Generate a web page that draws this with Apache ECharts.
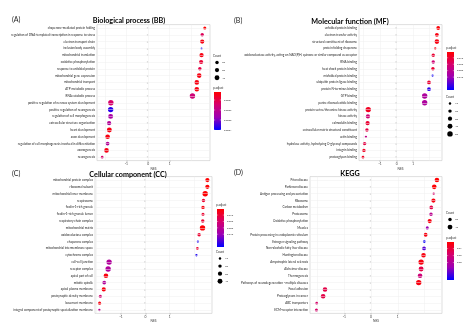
<!DOCTYPE html>
<html><head><meta charset="utf-8">
<script src="https://cdn.jsdelivr.net/npm/echarts@6/dist/echarts.min.js"></script>
<style>html,body{margin:0;padding:0;background:#fff}#c{width:474px;height:329px}</style>
</head><body><div id="c"></div><script>
// ---------- DATA ----------
const xTicks = [-2, -1, 0, 1, 2];

const catsA = ["chaperone-mediated protein folding","regulation of DNA-templated transcription in response to stress","electron transport chain","inclusion body assembly","mitochondrial translation","oxidative phosphorylation","response to unfolded protein","mitochondrial gene expression","mitochondrial transport","ATP metabolic process","RNA catabolic process","positive regulation of nervous system development","positive regulation of neurogenesis","regulation of cell morphogenesis","extracellular structure organization","heart development","axon development","regulation of cell morphogenesis involved in differentiation","axonogenesis","neurogenesis"];
const nesA = [2.62, 2.50, 2.50, 2.47, 2.47, 2.45, 2.39, 2.36, 2.25, 2.25, 2.05, -1.72, -1.73, -1.73, -1.80, -1.79, -1.87, -1.87, -1.92, -2.12];
const countA = [16, 20, 30, 6, 30, 30, 20, 36, 36, 36, 49, 49, 49, 41, 30, 41, 36, 24, 36, 12];
const padjA = [0.00002, 0.00012, 0.00004, 0.00039, 0.00004, 0.00008, 0.00010, 0.00004, 0.00004, 0.00004, 0.00016, 0.00014, 0.00037, 0.00024, 0.00022, 0.00004, 0.00004, 0.00022, 0.00004, 0.00014];
const countTicksA = [20, 30, 40];
const padjTicksA = ["0.0001", "0.0002", "0.0003", "0.0004"];

const catsB = ["unfolded protein binding","electron transfer activity","structural constituent of ribosome","protein folding chaperone","oxidoreductase activity, acting on NAD(P)H, quinone or similar compound as acceptor","RNA binding","heat shock protein binding","misfolded protein binding","ubiquitin protein ligase binding","protein N-terminus binding","GTP binding","purine ribonucleotide binding","protein serine/threonine kinase activity","kinase activity","calmodulin binding","extracellular matrix structural constituent","actin binding","hydrolase activity, hydrolyzing O-glycosyl compounds","integrin binding","proteoglycan binding"];
const nesB = [2.52, 2.44, 2.44, 2.34, 2.22, 2.22, 2.20, 2.18, 1.96, 1.96, 1.70, 1.70, -1.72, -1.74, -1.76, -1.80, -1.86, -1.94, -1.98, -2.04];
const countB = [24, 24, 36, 9, 20, 20, 20, 9, 24, 24, 49, 49, 49, 30, 30, 20, 9, 20, 20, 12];
const padjB = [0.002, 0.004, 0.004, 0.004, 0.010, 0.022, 0.010, 0.058, 0.010, 0.055, 0.034, 0.034, 0.007, 0.022, 0.010, 0.013, 0.028, 0.013, 0.007, 0.007];
const countTicksB = [10, 20, 30, 40, 50];
const padjTicksB = ["0.010", "0.020", "0.030", "0.040"];

const catsC = ["mitochondrial protein complex","ribosomal subunit","mitochondrial inner membrane","respirasome","ficolin-1-rich granule","ficolin-1-rich granule lumen","respiratory chain complex","mitochondrial matrix","oxidoreductase complex","chaperone complex","mitochondrial intermembrane space","cytochrome complex","cell-cell junction","receptor complex","apical part of cell","mitotic spindle","apical plasma membrane","postsynaptic density membrane","basement membrane","integral component of postsynaptic specialization membrane"];
const nesC = [2.55, 2.55, 2.46, 2.39, 2.37, 2.37, 2.36, 2.35, 2.21, 2.16, 2.14, 2.10, -1.49, -1.53, -1.62, -1.69, -1.71, -1.85, -1.88, -1.89];
const countC = [30, 30, 49, 20, 20, 16, 20, 49, 20, 9, 12, 9, 49, 49, 36, 24, 30, 16, 16, 9];
const padjC = [0.001, 0.001, 0.001, 0.009, 0.003, 0.009, 0.009, 0.001, 0.009, 0.057, 0.009, 0.057, 0.033, 0.033, 0.003, 0.033, 0.003, 0.021, 0.003, 0.030];
const countTicksC = [10, 20, 30, 40];
const padjTicksC = ["0.010", "0.020", "0.030", "0.040"];

const catsD = ["Prion disease","Parkinson disease","Antigen processing and presentation","Ribosome","Carbon metabolism","Proteasome","Oxidative phosphorylation","Measles","Protein processing in endoplasmic reticulum","Estrogen signaling pathway","Non-alcoholic fatty liver disease","Huntington disease","Amyotrophic lateral sclerosis","Alzheimer disease","Thermogenesis","Pathways of neurodegeneration - multiple diseases","Focal adhesion","Proteoglycans in cancer","ABC transporters","ECM-receptor interaction"];
const nesD = [2.46, 2.36, 2.34, 2.33, 2.25, 2.24, 2.19, 2.10, 2.04, 1.99, 1.98, 1.96, 1.87, 1.87, 1.83, 1.78, -1.72, -1.79, -2.03, -2.04];
const countD = [36, 36, 9, 30, 24, 20, 30, 16, 24, 12, 24, 36, 49, 41, 36, 49, 36, 36, 12, 16];
const padjD = [0.001, 0.001, 0.018, 0.003, 0.012, 0.027, 0.003, 0.036, 0.003, 0.054, 0.045, 0.003, 0.003, 0.012, 0.021, 0.003, 0.012, 0.012, 0.018, 0.018];
const countTicksD = [20, 40];
const padjTicksD = ["0.01", "0.02", "0.03"];

// ---------- LAYOUT ----------
const gradColors = ['#ff0000', '#d5006e', '#9c00b4', '#0000ff'];
const FONT = 'Lato, "Open Sans", sans-serif';
const panels = [
  {letter:'(A)', title:'Biological process (BB)', cats:catsA, nes:nesA, count:countA, padj:padjA,
   xr:[-2.36, 2.86], g:{l:97, t:24.6, w:113, h:136}, titleX:129, titleY:21, letterX:18,
   vm:[0.00002, 0.0004], padjTicks:padjTicksA, countTicks:countTicksA,
   countPos:{x:213, y:56}, barPos:{x:213, y:88}},
  {letter:'(B)', title:'Molecular function (MF)', cats:catsB, nes:nesB, count:countB, padj:padjB,
   xr:[-2.28, 2.75], g:{l:359, t:24.6, w:83, h:136}, titleX:350, titleY:22, letterX:240,
   vm:[0.001, 0.06], padjTicks:padjTicksB, countTicks:countTicksB,
   countPos:{x:446, y:97}, barPos:{x:446, y:48}},
  {letter:'(C)', title:'Cellular component (CC)', cats:catsC, nes:nesC, count:countC, padj:padjC,
   xr:[-2.07, 2.74], g:{l:95, t:176.6, w:117, h:136.8}, titleX:128, titleY:175, letterX:18,
   vm:[0.0005, 0.06], padjTicks:padjTicksC, countTicks:countTicksC,
   countPos:{x:216, y:252}, barPos:{x:216, y:205}},
  {letter:'(D)', title:'KEGG', cats:catsD, nes:nesD, count:countD, padj:padjD,
   xr:[-2.28, 2.65], g:{l:310, t:176.6, w:132, h:136.8}, titleX:350, titleY:174, letterX:240,
   vm:[0.0005, 0.055], padjTicks:padjTicksD, countTicks:countTicksD,
   countPos:{x:446, y:213}, barPos:{x:446, y:238}}
];
const sizeOf = c => 0.67 * Math.sqrt(c) * 1.15;

const grid = [], xAxis = [], yAxis = [], series = [], visualMap = [], graphic = [];
panels.forEach((p, i) => {
  grid.push({left:p.g.l, top:p.g.t, width:p.g.w, height:p.g.h, show:true, borderColor:'#c9c9c9', borderWidth:0.6, backgroundColor:'#fff'});
  xAxis.push({gridIndex:i, type:'value', min:p.xr[0], max:p.xr[1],
    name:'NES', nameLocation:'middle', nameGap:6.5, nameTextStyle:{fontSize:3.2, color:'#333', fontFamily:FONT},
    axisLine:{show:false},
    axisTick:{show:true, length:1.2, customValues:xTicks, lineStyle:{color:'#555', width:0.4}},
    axisLabel:{fontSize:3.3, margin:2, color:'#444', customValues:xTicks, showMinLabel:false, showMaxLabel:false, fontFamily:FONT},
    splitLine:{show:true, lineStyle:{color:'#eeeeee', width:0.5}}});
  yAxis.push({gridIndex:i, type:'category', data:p.cats, inverse:true,
    axisLine:{show:false},
    axisTick:{show:true, alignWithLabel:true, length:1.2, lineStyle:{color:'#555', width:0.4}},
    axisLabel:{fontSize:3, margin:2, color:'#222', interval:0, fontFamily:FONT},
    splitLine:{show:false}});
  // horizontal grid lines through the categories
  series.push({type:'scatter', xAxisIndex:i, yAxisIndex:i, data:[], z:1, silent:true,
    markLine:{symbol:'none', silent:true, label:{show:false}, animation:false,
      lineStyle:{color:'#eeeeee', width:0.5, type:'solid'},
      data:p.cats.map(c => ({yAxis:c}))}});
  const sIdx = series.length;
  series.push({type:'scatter', xAxisIndex:i, yAxisIndex:i, z:3,
    data:p.cats.map((c, j) => [p.nes[j], c, p.count[j], p.padj[j]]),
    symbolSize: v => sizeOf(v[2]), itemStyle:{opacity:1}});
  visualMap.push({show:false, seriesIndex:sIdx, dimension:3, min:p.vm[0], max:p.vm[1], inRange:{color:gradColors}});

  // titles
  graphic.push({type:'text', left:p.letterX - 6, top:p.titleY - 4.5, style:{text:p.letter, font:'7px '+FONT, fill:'#222'}});
  graphic.push({type:'text', x:p.titleX, y:p.titleY, style:{text:p.title, font:'bold 7.2px '+FONT, fill:'#000', align:'center', verticalAlign:'middle'}});

  // count legend
  const cp = p.countPos;
  graphic.push({type:'text', x:cp.x, y:cp.y, style:{text:'Count', font:'3px '+FONT, fill:'#333', verticalAlign:'middle'}});
  p.countTicks.forEach((c, k) => {
    const cy = cp.y + 6.5 + k * 7.6;
    graphic.push({type:'circle', shape:{cx:cp.x + 4, cy:cy, r:sizeOf(c) / 2}, style:{fill:'#000'}});
    graphic.push({type:'text', x:cp.x + 9, y:cy, style:{text:String(c), font:'2.6px '+FONT, fill:'#333', verticalAlign:'middle'}});
  });
  // p.adjust colour bar
  const bp = p.barPos;
  graphic.push({type:'text', x:bp.x, y:bp.y, style:{text:'p.adjust', font:'3px '+FONT, fill:'#333', verticalAlign:'middle'}});
  const bx = bp.x + 1, by = bp.y + 4, bw = 7, bh = 38;
  graphic.push({type:'rect', shape:{x:bx, y:by, width:bw, height:bh},
    style:{fill:new echarts.graphic.LinearGradient(0, 0, 0, 1, gradColors.map((c, k) => ({offset:k / (gradColors.length - 1), color:c})))}});
  p.padjTicks.forEach(t => {
    const v = parseFloat(t);
    const yy = by + (v - p.vm[0]) / (p.vm[1] - p.vm[0]) * bh;
    graphic.push({type:'line', shape:{x1:bx, y1:yy, x2:bx + 1.2, y2:yy}, style:{stroke:'#fff', lineWidth:0.4}});
    graphic.push({type:'line', shape:{x1:bx + bw - 1.2, y1:yy, x2:bx + bw, y2:yy}, style:{stroke:'#fff', lineWidth:0.4}});
    graphic.push({type:'text', x:bx + bw + 3, y:yy, style:{text:t, font:'2.4px '+FONT, fill:'#333', verticalAlign:'middle'}});
  });
});

const chart = echarts.init(document.getElementById('c'), null, {renderer:'canvas'});
chart.setOption({animation:false, backgroundColor:'#fff', grid, xAxis, yAxis, series, visualMap, graphic});
</script></body></html>
